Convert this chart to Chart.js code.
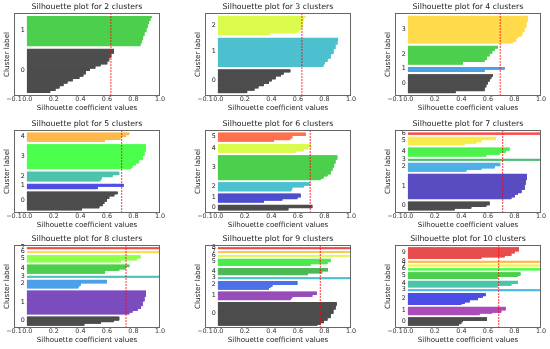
<!DOCTYPE html>
<html>
<head>
<meta charset="utf-8">
<script src="https://cdn.jsdelivr.net/npm/chart.js@4.4.1/dist/chart.umd.min.js"></script>
<style>
  html, body { margin: 0; padding: 0; background: #fff; }
  #figura { position: relative; width: 550px; height: 349px; overflow: hidden; }
  #figura canvas { position: absolute; }
</style>
</head>
<body>
<div id="figura"></div>
<script>
const nClusters = [2, 3, 4, 5, 6, 7, 8, 9, 10];
const avgScore = [0.63, 0.63, 0.693, 0.711, 0.693, 0.711, 0.744, 0.769, 0.681];
const xTickValues = [-0.1, 0, 0.2, 0.4, 0.6, 0.8, 1.0];
const gapSamples = 10;

// valores de silueta por cluster, de abajo hacia arriba: [valor, cantidad de muestras]
const sil2 = [
  [[0.17,6],[0.21,7],[0.24,7],[0.27,8],[0.30,7],[0.34,7],[0.39,7],[0.42,7],[0.44,10],[0.47,7],[0.51,7],[0.55,6],[0.60,9],[0.615,11],[0.63,12],[0.65,13]],
  [[0.85,8],[0.86,10],[0.87,12],[0.88,12],[0.895,12],[0.905,12],[0.915,10],[0.925,8],[0.935,5]]
];
const sil3 = [
  [[0.215,8],[0.27,7],[0.30,7],[0.34,7],[0.38,8],[0.40,7],[0.43,9],[0.47,6],[0.49,7],[0.54,8]],
  [[0.79,8],[0.80,8],[0.82,10],[0.845,14],[0.865,16],[0.88,15],[0.895,12],[0.90,8]],
  [[0.385,6],[0.59,3],[0.605,6],[0.62,8],[0.635,20],[0.64,12],[0.655,5]]
];
const sil4 = [
  [[0.354,7],[0.573,12],[0.585,10],[0.598,9],[0.61,9],[0.623,8],[0.636,6]],
  [[0.573,7],[0.724,7]],
  [[0.41,9],[0.573,6],[0.59,12],[0.61,9],[0.63,9],[0.648,8],[0.673,7]],
  [[0.786,5],[0.81,10],[0.82,7],[0.85,8],[0.86,8],[0.874,14],[0.887,20],[0.90,18]]
];
const sil5 = [
  [[0.41,7],[0.54,7],[0.565,8],[0.578,8],[0.598,9],[0.615,9],[0.653,7],[0.678,8]],
  [[0.528,8],[0.724,8]],
  [[0.548,7],[0.56,8],[0.64,7],[0.69,10]],
  [[0.78,5],[0.79,8],[0.816,7],[0.84,12],[0.867,14],[0.88,14],[0.89,24]],
  [[0.583,7],[0.70,10],[0.74,6],[0.766,7]]
];
const sil6 = [
  [[0.525,8],[0.706,10]],
  [[0.342,7],[0.48,5],[0.593,6],[0.618,12]],
  [[0.548,7],[0.555,7],[0.643,6],[0.688,10]],
  [[0.77,5],[0.79,8],[0.82,7],[0.844,12],[0.857,12],[0.87,14],[0.88,14],[0.894,14]],
  [[0.58,7],[0.643,6],[0.673,7],[0.693,10]],
  [[0.417,6],[0.54,6],[0.555,9],[0.656,10]]
];
const sil7 = [
  [[0.347,7],[0.472,6],[0.585,6],[0.61,12]],
  [[0.774,7],[0.80,10],[0.824,5],[0.85,12],[0.874,18],[0.882,18],[0.892,21]],
  [[0.435,6],[0.548,6],[0.648,8],[0.69,10]],
  [[1.0,5]],
  [[0.585,7],[0.686,6],[0.73,8],[0.761,10]],
  [[0.422,6],[0.51,5],[0.548,8],[0.656,10]],
  [[1.0,6]]
];
const sil8 = [
  [[0.427,7],[0.553,6],[0.648,6],[0.69,13]],
  [[0.766,7],[0.79,6],[0.83,8],[0.854,10],[0.867,18],[0.88,18],[0.892,21]],
  [[0.382,7],[0.39,4],[0.402,8],[0.598,12]],
  [[1.0,5]],
  [[0.583,10],[0.69,6],[0.741,8],[0.766,8]],
  [[0.704,8],[0.824,7],[0.85,10]],
  [[1.0,5]],
  [[1.0,5]]
];
const sil9 = [
  [[0.744,4],[0.77,6],[0.794,10],[0.82,9],[0.844,17],[0.864,17],[0.882,14],[0.889,13]],
  [[0.543,6],[0.555,6],[0.706,8],[0.739,11]],
  [[0.38,6],[0.392,4],[0.405,8],[0.593,13]],
  [[1.0,5]],
  [[0.673,7],[0.78,8],[0.824,11]],
  [[0.693,7],[0.82,8],[0.844,11]],
  [[1.0,5]],
  [[1.0,5]],
  [[1.0,5]]
];
const sil10 = [
  [[0.38,6],[0.397,8],[0.41,5],[0.59,13]],
  [[0.535,7],[0.63,4],[0.698,9],[0.731,12]],
  [[0.397,4],[0.422,6],[0.46,9],[0.523,10],[0.56,6],[0.58,10]],
  [[1.0,5]],
  [[0.673,7],[0.774,7],[0.824,10]],
  [[0.673,8],[0.824,5],[0.842,11]],
  [[1.0,6]],
  [[1.0,5]],
  [[1.0,5]],
  [[0.548,6],[0.724,6],[0.774,10],[0.80,8],[0.832,15]]
];
const allSil = [sil2, sil3, sil4, sil5, sil6, sil7, sil8, sil9, sil10];

const FONT = '"DejaVu Sans", sans-serif';
const figura = document.getElementById('figura');
const colLeft = [0, 191, 381];
const rowTop = [0, 117, 232];
const PANEL_W = 169;
const PANEL_H = 116;

// mapa de colores nipy_spectral (paradas cada 0.05)
const specR = [0, .4667, .5333, 0, 0, 0, 0, 0, 0, 0, 0, 0, 0, .7333, .9333, 1, 1, 1, .8667, .8, .8];
const specG = [0, 0, 0, 0, 0, .4667, .6, .6667, .6667, .6, .7333, .8667, 1, 1, .9333, .8, .6, 0, 0, 0, .8];
const specB = [0, .5333, .6, .6667, .8667, .8667, .8667, .6667, .5333, 0, 0, 0, 0, 0, 0, 0, 0, 0, 0, 0, .8];

function nipySpectral(t) {
  const pos = t * 20;
  const i = Math.min(19, Math.floor(pos + 1e-9));
  const f = pos - i;
  const ch = arr => arr[i] + (arr[i + 1] - arr[i]) * f;
  // alpha 0.7 sobre fondo blanco
  const mix = c => Math.round((0.7 * c + 0.3) * 255);
  return `rgb(${mix(ch(specR))}, ${mix(ch(specG))}, ${mix(ch(specB))})`;
}

// etiquetas de cluster, línea de promedio y marco
function makeOverlay(avg, centers) {
  return {
    id: 'overlay',
    afterDatasetsDraw(chart) {
      const { ctx, chartArea: a, scales: { x, y } } = chart;
      ctx.save();
      ctx.fillStyle = '#222';
      ctx.font = '6.4px ' + FONT;
      ctx.textAlign = 'left';
      ctx.textBaseline = 'alphabetic';
      centers.forEach((c, i) => {
        ctx.fillText(String(i), x.getPixelForValue(-0.05), y.getPixelForValue(c) + 1);
      });

      const px = x.getPixelForValue(avg);
      ctx.strokeStyle = 'rgba(255, 0, 0, 0.65)';
      ctx.lineWidth = 1.2;
      ctx.setLineDash([2, 1]);
      ctx.beginPath();
      ctx.moveTo(px, a.top);
      ctx.lineTo(px, a.bottom);
      ctx.stroke();
      ctx.setLineDash([]);

      ctx.strokeStyle = '#666';
      ctx.lineWidth = 1;
      ctx.strokeRect(a.left + 0.5, a.top + 0.5, a.width - 1, a.height - 1);
      ctx.restore();
    }
  };
}

function crearPanel(idx) {
  const k = nClusters[idx];
  const clusters = allSil[idx];

  const canvas = document.createElement('canvas');
  canvas.width = PANEL_W;
  canvas.height = PANEL_H;
  canvas.style.left = colLeft[idx % 3] + 'px';
  canvas.style.top = rowTop[Math.floor(idx / 3)] + 'px';
  figura.appendChild(canvas);

  let yLower = gapSamples;
  const datasets = [];
  const centers = [];
  clusters.forEach((runs, c) => {
    const rows = [];
    runs.forEach(([v, n]) => {
      for (let j = 0; j < n; j++) rows.push({ x: v, y: yLower + rows.length + 0.5 });
    });
    centers.push(yLower + rows.length / 2);
    datasets.push({
      data: rows,
      backgroundColor: nipySpectral(c / k),
      borderWidth: 0,
      grouped: false,
      barPercentage: 1,
      categoryPercentage: 1
    });
    yLower += rows.length + gapSamples;
  });
  const yTop = yLower;

  new Chart(canvas, {
    type: 'bar',
    data: { datasets },
    options: {
      indexAxis: 'y',
      responsive: false,
      animation: false,
      events: [],
      layout: { padding: { left: 0, right: 9, top: 0, bottom: 0 } },
      plugins: {
        legend: { display: false },
        tooltip: { enabled: false },
        title: {
          display: true,
          text: `Silhouette plot for ${k} clusters`,
          fullSize: false,
          color: '#222',
          font: { family: FONT, size: 7.8, weight: 'normal', lineHeight: 1 },
          padding: { top: 3, bottom: 2.2 }
        }
      },
      scales: {
        x: {
          type: 'linear',
          min: -0.1,
          max: 1.0,
          grid: { display: false, drawTicks: false },
          border: { display: false },
          afterBuildTicks: s => { s.ticks = xTickValues.map(v => ({ value: v })); },
          afterFit: s => { s.height = 20; },
          ticks: {
            autoSkip: false,
            maxRotation: 0,
            padding: 0,
            color: '#333',
            font: { family: FONT, size: 6.4 },
            callback: v => (v < 0 ? '\u2212' : '') + Math.abs(v).toFixed(1)
          },
          title: {
            display: true,
            text: 'Silhouette coefficient values',
            color: '#222',
            font: { family: FONT, size: 7.1, lineHeight: 1 },
            padding: { top: 0, bottom: 4.2 }
          }
        },
        y: {
          type: 'linear',
          min: 0,
          max: yTop,
          offset: false,
          grid: { display: false, drawTicks: false },
          border: { display: false },
          ticks: { display: false },
          afterFit: s => { s.width = 14; },
          title: {
            display: true,
            text: 'Cluster label',
            color: '#222',
            font: { family: FONT, size: 7.2, lineHeight: 1 },
            padding: { top: 3.6, bottom: 0 }
          }
        }
      }
    },
    plugins: [makeOverlay(avgScore[idx], centers)]
  });
}

nClusters.forEach((k, idx) => crearPanel(idx));
</script>
</body>
</html>
